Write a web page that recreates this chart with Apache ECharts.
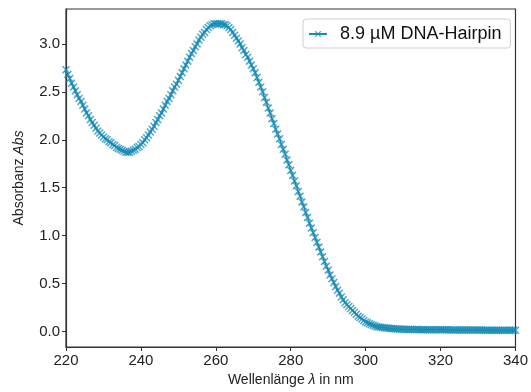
<!DOCTYPE html>
<html>
<head>
<meta charset="utf-8">
<script src="https://cdn.jsdelivr.net/npm/echarts@6/dist/echarts.min.js"></script>
<style>html,body{margin:0;padding:0;background:#fff;}#c{width:531px;height:392px;}</style>
</head>
<body>
<div id="c"></div>
<script>
const wavelengths = [
220,220.5,221,221.5,222,222.5,223,223.5,224,224.5,225,225.5,226,226.5,227,227.5,228,228.5,229,229.5,
230,230.5,231,231.5,232,232.5,233,233.5,234,234.5,235,235.5,236,236.5,237,237.5,238,238.5,239,239.5,
240,240.5,241,241.5,242,242.5,243,243.5,244,244.5,245,245.5,246,246.5,247,247.5,248,248.5,249,249.5,
250,250.5,251,251.5,252,252.5,253,253.5,254,254.5,255,255.5,256,256.5,257,257.5,258,258.5,259,259.5,
260,260.5,261,261.5,262,262.5,263,263.5,264,264.5,265,265.5,266,266.5,267,267.5,268,268.5,269,269.5,
270,270.5,271,271.5,272,272.5,273,273.5,274,274.5,275,275.5,276,276.5,277,277.5,278,278.5,279,279.5,
280,280.5,281,281.5,282,282.5,283,283.5,284,284.5,285,285.5,286,286.5,287,287.5,288,288.5,289,289.5,
290,290.5,291,291.5,292,292.5,293,293.5,294,294.5,295,295.5,296,296.5,297,297.5,298,298.5,299,299.5,
300,300.5,301,301.5,302,302.5,303,303.5,304,304.5,305,305.5,306,306.5,307,307.5,308,308.5,309,309.5,
310,310.5,311,311.5,312,312.5,313,313.5,314,314.5,315,315.5,316,316.5,317,317.5,318,318.5,319,319.5,
320,320.5,321,321.5,322,322.5,323,323.5,324,324.5,325,325.5,326,326.5,327,327.5,328,328.5,329,329.5,
330,330.5,331,331.5,332,332.5,333,333.5,334,334.5,335,335.5,336,336.5,337,337.5,338,338.5,339,339.5,
340];
const absorbance = [
2.73,2.68,2.64,2.59,2.55,2.51,2.47,2.43,2.40,2.36,2.32,2.28,2.25,2.21,2.18,2.15,2.12,2.09,2.07,2.05,
2.03,2.01,2.00,1.98,1.97,1.95,1.94,1.92,1.91,1.90,1.89,1.88,1.87,1.87,1.87,1.88,1.89,1.90,1.92,1.93,
1.95,1.97,2.00,2.02,2.05,2.08,2.11,2.14,2.18,2.21,2.25,2.28,2.32,2.36,2.40,2.43,2.47,2.51,2.55,2.58,
2.62,2.66,2.70,2.74,2.78,2.82,2.86,2.90,2.93,2.97,3.00,3.04,3.07,3.10,3.12,3.15,3.17,3.19,3.20,3.21,
3.21,3.21,3.21,3.21,3.20,3.20,3.19,3.17,3.15,3.12,3.09,3.06,3.03,3.00,2.96,2.93,2.89,2.86,2.82,2.78,
2.74,2.70,2.65,2.60,2.55,2.50,2.44,2.39,2.33,2.28,2.22,2.17,2.11,2.06,2.01,1.95,1.90,1.85,1.79,1.74,
1.68,1.63,1.57,1.52,1.46,1.41,1.35,1.30,1.24,1.19,1.13,1.08,1.03,0.98,0.93,0.88,0.83,0.78,0.73,0.68,
0.64,0.59,0.55,0.51,0.47,0.43,0.40,0.36,0.33,0.30,0.28,0.26,0.24,0.22,0.20,0.18,0.16,0.145,0.13,0.115,
0.10,0.09,0.08,0.072,0.065,0.057,0.05,0.047,0.045,0.042,0.04,0.037,0.035,0.032,0.03,0.029,0.028,0.026,0.025,0.024,
0.023,0.022,0.022,0.021,0.021,0.020,0.020,0.020,0.020,0.019,0.019,0.019,0.019,0.018,0.018,0.018,0.018,0.018,0.018,0.017,
0.017,0.017,0.017,0.017,0.017,0.016,0.016,0.016,0.016,0.016,0.016,0.016,0.016,0.015,0.015,0.015,0.015,0.015,0.015,0.015,
0.015,0.015,0.015,0.014,0.014,0.014,0.014,0.014,0.014,0.014,0.014,0.014,0.014,0.013,0.013,0.013,0.013,0.013,0.013,0.013,
0.013];
const xTicks = [220,240,260,280,300,320,340];
const yTicks = [0,0.5,1.0,1.5,2.0,2.5,3.0];
const seriesName = '8.9 µM DNA-Hairpin';

const color = '#178bb6';
const font = 'Liberation Sans, Arial, Helvetica, sans-serif';
const xMark = 'path://M0,1.3L1.3,0L5,3.7L8.7,0L10,1.3L6.3,5L10,8.7L8.7,10L5,6.3L1.3,10L0,8.7L3.7,5Z';

const chart = echarts.init(document.getElementById('c'), null, {renderer: 'canvas'});
chart.setOption({
  animation: false,
  backgroundColor: '#fff',
  textStyle: {fontFamily: font},
  grid: {left: 66, right: 12, top: 9, bottom: 44, show: true, borderColor: '#333', borderWidth: 1.2, backgroundColor: 'transparent'},
  legend: {
    left: 303, top: 19,
    padding: [6, 9, 5, 5],
    itemWidth: 18, itemHeight: 8, itemGap: 8,
    borderColor: '#d0d0d0', borderWidth: 1, borderRadius: 3,
    backgroundColor: '#fff',
    textStyle: {fontSize: 18, color: '#111', fontFamily: font, padding: [0, 0, 0, 8]},
    data: [seriesName]
  },
  xAxis: {
    type: 'value', min: 220, max: 340,
    axisLine: {show: true, onZero: false, lineStyle: {color: '#333', width: 1.2}},
    axisTick: {show: true, length: 4, lineStyle: {color: '#333'}, customValues: xTicks},
    axisLabel: {fontSize: 15, color: '#222', margin: 6, customValues: xTicks, fontFamily: font},
    splitLine: {show: false},
    name: '{n|Wellenlänge }{i|λ}{n| in nm}',
    nameLocation: 'middle', nameGap: 26,
    nameTextStyle: {rich: {n: {fontSize: 14, color: '#222', fontFamily: font}, i: {fontSize: 14, color: '#222', fontStyle: 'italic', fontFamily: font}}}
  },
  yAxis: {
    type: 'value', min: -0.162, max: 3.364,
    axisLine: {show: true, onZero: false, lineStyle: {color: '#333', width: 1.2}},
    axisTick: {show: true, length: 4, lineStyle: {color: '#333'}, customValues: yTicks},
    axisLabel: {fontSize: 15, color: '#222', margin: 6, customValues: yTicks, fontFamily: font,
      formatter: v => v.toFixed(1)},
    splitLine: {show: false},
    name: '{n|Absorbanz }{i|Abs}',
    nameLocation: 'middle', nameGap: 40, nameRotate: 90,
    nameTextStyle: {rich: {n: {fontSize: 14, color: '#222', fontFamily: font}, i: {fontSize: 14, color: '#222', fontStyle: 'italic', fontFamily: font}}}
  },
  series: [{
    name: seriesName,
    type: 'line',
    data: wavelengths.map((w, i) => [w, absorbance[i]]),
    symbol: xMark, symbolSize: 8, showSymbol: true, showAllSymbol: true,
    lineStyle: {color: color, width: 1.5},
    itemStyle: {color: color, opacity: 0.75},
    clip: true
  }]
});
</script>
</body>
</html>
